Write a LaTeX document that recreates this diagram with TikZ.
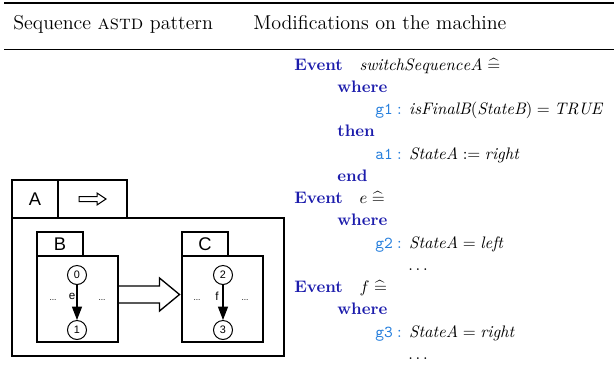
\documentclass[tikz,border=0pt]{standalone}
\usepackage{amsmath}
\usepackage{fontspec}
\newfontfamily\diagfont{Liberation Sans}
\usetikzlibrary{arrows.meta,calc}
\definecolor{kwblue}{RGB}{28,28,172}
\definecolor{lblblue}{RGB}{35,125,220}
\newcommand{\kw}[1]{\textcolor{kwblue}{\textbf{#1}}}
\newcommand{\lbl}[1]{\textcolor{lblblue}{\texttt{#1}\hspace{0.25em}:}\hspace{0.45em}}
\newcommand{\defeq}{\mathrel{\widehat{=}}}
\begin{document}
\begin{tikzpicture}[x=0.6pt,y=-0.6pt,
  box/.style={draw,line width=1.2pt,inner sep=0pt,font=\diagfont\fontsize{11}{11}\selectfont},
  state/.style={draw,circle,line width=0.6pt,minimum size=11.4pt,inner sep=0pt,font=\diagfont\fontsize{6.5}{6.5}\selectfont},
  trans/.style={line width=0.7pt,-{Triangle[length=8pt,width=6pt]}},
  tlabel/.style={font=\diagfont\fontsize{7}{7}\selectfont,inner sep=0pt},
  dots/.style={font=\diagfont\fontsize{5}{5}\selectfont,inner sep=0pt},
  hollow/.style={draw,line width=0.8pt,fill=white,line join=miter},
  head/.style={font=\fontsize{12}{14}\selectfont,anchor=base west,inner sep=0pt},
  ebline/.style={font=\fontsize{10}{12}\selectfont,anchor=base west,inner sep=0pt}]
\useasboundingbox (0,0) rectangle (614,364);

% table rules and column headings
\coordinate (ruleL) at (4,3);
\coordinate (ruleR) at (614,3);
\draw[line width=0.9pt] (ruleL) -- (ruleR);
\draw[line width=0.6pt] ([yshift=-46*0.6pt]ruleL) -- ([yshift=-46*0.6pt]ruleR);
\node[head] (h1) at (13,29) {Sequence \textsc{astd} pattern};
\node[head] (h2) at (253,29) {Modifications on the machine};

% sequence ASTD A with its tabs
\node[box,minimum width=46*0.6pt,minimum height=38*0.6pt] (tabA) at (35,199) {A};
\node[box,minimum width=69*0.6pt,minimum height=38*0.6pt] (tabSeq) at (92.5,199) {};
\node[box,minimum width=272*0.6pt,minimum height=138*0.6pt] (bodyA) at (148,287) {};
\draw[hollow,line width=0.6pt]
  ($(tabSeq.center)+(-13.5,-2.5)$) -- ++(18,0) -- ++(0,-3.5) -- ++(9,6)
  -- ++(-9,6) -- ++(0,-3.5) -- ++(-18,0) -- cycle;

% sub-ASTD B
\node[box,minimum width=46*0.6pt,minimum height=24*0.6pt] (tabB) at (60,244) {B};
\node[box,minimum width=81*0.6pt,minimum height=86*0.6pt] (bodyB) at (77.5,299) {};
\node[state] (s0) at (77,275) {0};
\node[state] (s1) at (77,330) {1};
\draw[trans] (s0) -- (s1);
\node[tlabel] (le) at (72,296) {e};
\node[dots] (dB1) at (53,300) {...};
\node[dots] (dB2) at (102,300) {...};

% sub-ASTD C
\node[box,minimum width=46*0.6pt,minimum height=24*0.6pt] (tabC) at (205,244) {C};
\node[box,minimum width=81*0.6pt,minimum height=86*0.6pt] (bodyC) at (222.5,299) {};
\node[state] (s2) at (223,275) {2};
\node[state] (s3) at (223,330) {3};
\draw[trans] (s2) -- (s3);
\node[tlabel] (lf) at (217,296) {f};
\node[dots] (dC1) at (197,300) {...};
\node[dots] (dC2) at (245,300) {...};

% sequence arrow from B to C
\coordinate (lvl) at (0,294.5);
\coordinate (aS) at (bodyB.east |- lvl);
\coordinate (aT) at ($(bodyC.west |- lvl)+(-1.5,0)$);
\draw[hollow]
  ($(aS)+(0,-8.5)$) -- ($(aT)+(-20,-8.5)$) -- ($(aT)+(-20,-16.5)$) -- (aT)
  -- ($(aT)+(-20,16.5)$) -- ($(aT)+(-20,8.5)$) -- ($(aS)+(0,8.5)$);

% Event-B machine modifications
\def\ls{22.25}
\node[ebline] (l0)  at (294,70+0*\ls)  {\kw{Event}\quad $\mathit{switchSequenceA} \defeq$};
\node[ebline] (l1)  at (337,70+1*\ls)  {\kw{where}};
\node[ebline] (l2)  at (375,70+2*\ls)  {\lbl{g1}$\mathit{isFinalB}(\mathit{StateB}) = \mathit{TRUE}$};
\node[ebline] (l3)  at (337,70+3*\ls)  {\kw{then}};
\node[ebline] (l4)  at (375,70+4*\ls)  {\lbl{a1}$\mathit{StateA} := \mathit{right}$};
\node[ebline] (l5)  at (337,70+5*\ls)  {\kw{end}};
\node[ebline] (l6)  at (294,70+6*\ls)  {\kw{Event}\quad $e \defeq$};
\node[ebline] (l7)  at (337,70+7*\ls)  {\kw{where}};
\node[ebline] (l8)  at (375,70+8*\ls)  {\lbl{g2}$\mathit{StateA} = \mathit{left}$};
\node[ebline] (l9)  at (408,70+9*\ls)  {$\ldots$};
\node[ebline] (l10) at (294,70+10*\ls) {\kw{Event}\quad $f \defeq$};
\node[ebline] (l11) at (337,70+11*\ls) {\kw{where}};
\node[ebline] (l12) at (375,70+12*\ls) {\lbl{g3}$\mathit{StateA} = \mathit{right}$};
\node[ebline] (l13) at (408,70+13*\ls) {$\ldots$};
\end{tikzpicture}
\end{document}
